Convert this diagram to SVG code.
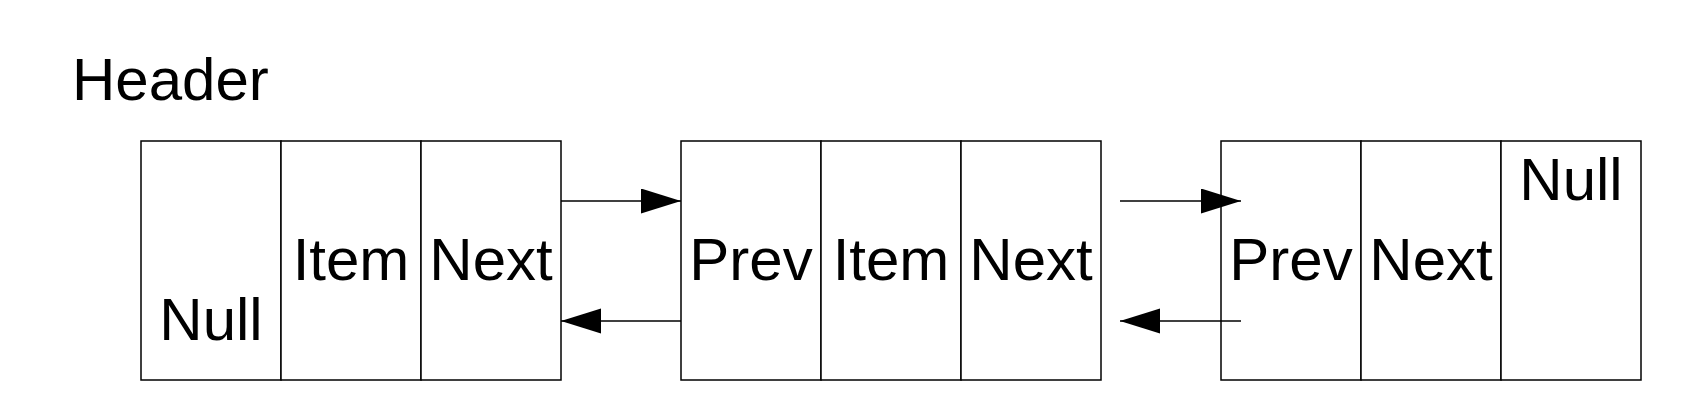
<svg xmlns="http://www.w3.org/2000/svg" width="1700" height="420" viewBox="0 0 1700 420">
<style>
.cell{fill:#fff;stroke:#000;stroke-width:1.5}
.t{font-family:"Liberation Sans",Arial,sans-serif;font-size:60px;fill:#000;text-anchor:middle}
.c{fill:none;stroke:#000;stroke-width:1.5}
</style>
<defs>
<marker id="ah" markerUnits="userSpaceOnUse" markerWidth="41" markerHeight="26" refX="40" refY="12.5" orient="auto">
<path d="M0,0 L40,12.5 L0,25 Z" fill="#000"/>
</marker>
</defs>
<rect width="1700" height="420" fill="#fff"/>
<text x="72" y="99.5" class="t" style="text-anchor:start">Header</text>
<g id="node1">
<rect class="cell" x="141" y="141" width="140" height="239"/>
<rect class="cell" x="281" y="141" width="140" height="239"/>
<rect class="cell" x="421" y="141" width="140" height="239"/>
<text class="t" x="211" y="340">Null</text>
<text class="t" x="351" y="279.5">Item</text>
<text class="t" x="491" y="279.5">Next</text>
</g>
<g id="node2">
<rect class="cell" x="681" y="141" width="140" height="239"/>
<rect class="cell" x="821" y="141" width="140" height="239"/>
<rect class="cell" x="961" y="141" width="140" height="239"/>
<text class="t" x="751" y="279.5">Prev</text>
<text class="t" x="891" y="279.5">Item</text>
<text class="t" x="1031" y="279.5">Next</text>
</g>
<g id="node3">
<rect class="cell" x="1221" y="141" width="140" height="239"/>
<rect class="cell" x="1361" y="141" width="140" height="239"/>
<rect class="cell" x="1501" y="141" width="140" height="239"/>
<text class="t" x="1291" y="279.5">Prev</text>
<text class="t" x="1431" y="279.5">Next</text>
<text class="t" x="1571" y="199.5">Null</text>
</g>
<g id="connectors">
<line class="c" x1="561" y1="201" x2="681" y2="201" marker-end="url(#ah)"/>
<line class="c" x1="681" y1="321" x2="561" y2="321" marker-end="url(#ah)"/>
<line class="c" x1="1120" y1="201" x2="1241" y2="201" marker-end="url(#ah)"/>
<line class="c" x1="1241" y1="321" x2="1120" y2="321" marker-end="url(#ah)"/>
</g>
</svg>
